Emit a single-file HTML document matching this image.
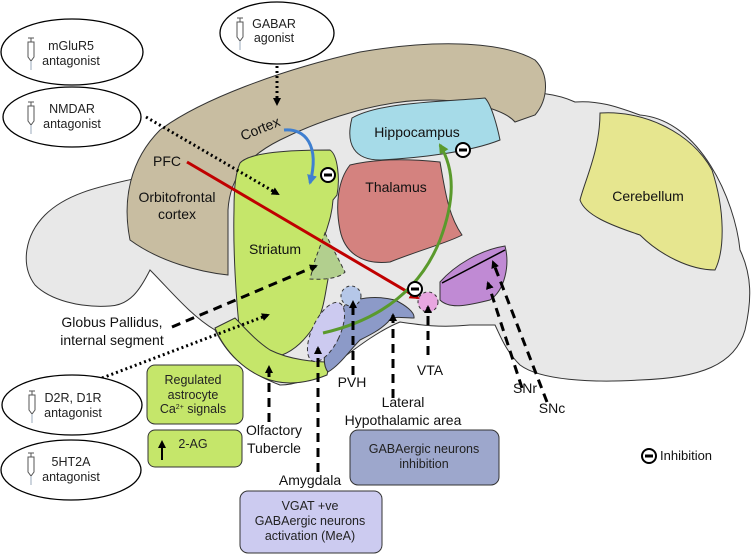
<!DOCTYPE html>
<html><head><meta charset="utf-8"><style>
html,body{margin:0;padding:0;background:#fff;}
svg{display:block;font-family:"Liberation Sans",Arial,sans-serif;}
</style></head><body>
<svg width="756" height="557" viewBox="0 0 756 557" xmlns="http://www.w3.org/2000/svg">
<defs>
<marker id="ak" markerWidth="8" markerHeight="8" refX="6" refY="4" orient="auto" markerUnits="userSpaceOnUse"><path d="M0,0 L8,4 L0,8 z" fill="#000"/></marker>
<marker id="ar" markerWidth="10" markerHeight="10" refX="8" refY="5" orient="auto" markerUnits="userSpaceOnUse"><path d="M0,0 L10,5 L0,10 z" fill="#c00000"/></marker>
<marker id="ag" markerWidth="10" markerHeight="10" refX="8" refY="5" orient="auto" markerUnits="userSpaceOnUse"><path d="M0,0 L10,5 L0,10 z" fill="#5a9a2c"/></marker>
<marker id="ab" markerWidth="10" markerHeight="10" refX="8" refY="5" orient="auto" markerUnits="userSpaceOnUse"><path d="M0,0 L10,5 L0,10 z" fill="#3f7fd0"/></marker>
</defs>
<!-- gray brain -->
<path d="M150,175 C200,120 300,95 400,95 L480,92 C540,90 560,95 575,102 C600,100 620,108 640,115 C700,120 735,200 740,250 C752,275 752,300 745,330 C735,365 700,378 640,380 C590,383 540,380 520,365 C505,350 500,335 495,325 L470,325 C440,328 420,325 400,322 C380,330 360,345 340,360 C320,375 300,385 280,385 C240,370 225,350 215,330 C190,315 170,290 150,270 C140,290 130,305 110,306 C80,308 50,300 35,285 C20,265 25,235 45,215 C70,190 110,185 150,175 Z" fill="#e8e8e8" stroke="#333" stroke-width="1"/>
<!-- cortex -->
<path d="M130,240 C122,200 130,160 160,130 C200,100 280,70 360,52 C430,40 500,40 535,60 C550,75 548,100 535,115 L515,122 C505,110 470,100 430,100 C380,100 320,120 280,140 C250,155 230,175 228,210 L228,275 C200,272 160,262 130,240 Z" fill="#c8bda1" stroke="#333" stroke-width="1"/>
<!-- striatum -->
<path d="M240,163 C250,152 290,150 330,150 C338,155 340,180 337,195 L333,200 C332,215 328,225 325,235 L330,270 C325,290 325,310 315,325 C305,340 295,350 282,355 C265,352 250,345 240,335 C236,300 233,250 234,210 C234,185 236,172 240,163 Z" fill="#c5e66a" stroke="#333" stroke-width="1"/>
<!-- olfactory tubercle band -->
<path d="M215,328 L235,318 C245,328 255,340 270,350 C290,360 315,362 330,362 L327,375 C310,382 290,386 270,380 C245,372 225,352 215,328 Z" fill="#c5e66a" stroke="#333" stroke-width="1"/>
<!-- globus pallidus -->
<path d="M325,233 L345,272 C340,278 325,280 310,279 L315,260 Z" fill="#b2cf8e" stroke="#333" stroke-width="1" stroke-dasharray="4,3"/>
<!-- hippocampus -->
<path d="M352,118 C380,102 440,102 485,98 C492,105 498,130 500,140 C470,152 420,158 380,160 C355,160 345,145 352,118 Z" fill="#a6dbe8" stroke="#333" stroke-width="1"/>
<!-- thalamus -->
<path d="M350,165 C370,160 400,158 440,162 C445,190 448,215 462,235 C450,242 420,250 390,262 C365,265 345,255 340,230 C335,205 338,180 350,165 Z" fill="#d4827f" stroke="#333" stroke-width="1"/>
<!-- cerebellum -->
<path d="M600,113 C640,110 690,130 712,170 C725,210 725,250 715,270 C690,270 660,255 640,235 C610,225 585,215 580,200 C585,180 600,150 600,113 Z" fill="#e6e68f" stroke="#333" stroke-width="1"/>
<!-- SN -->
<path d="M440,282 C455,265 480,250 505,246 C510,265 505,290 490,300 C470,305 450,310 440,300 Z" fill="#c08ad4" stroke="#333" stroke-width="1"/>
<!-- lateral hypothalamic -->
<path d="M345,305 C355,298 375,295 395,300 C405,305 415,312 414,318 C400,318 392,315 388,322 C380,330 370,335 360,340 C350,350 340,365 328,372 C318,360 330,325 345,305 Z" fill="#8c9ac8" stroke="#333" stroke-width="1"/>
<!-- amygdala -->
<ellipse cx="326" cy="332" rx="14" ry="32" transform="rotate(25 326 332)" fill="#cccaf0" stroke="#333" stroke-dasharray="4,3"/>
<!-- PVH -->
<circle cx="351" cy="296" r="10" fill="#b5c7e8" stroke="#333" stroke-dasharray="3,3"/>
<!-- VTA -->
<circle cx="428" cy="302" r="10" fill="#e8a6e0" stroke="#333" stroke-dasharray="3,3"/>
<!-- red line -->
<line x1="187" y1="162" x2="418" y2="298" stroke="#c00000" stroke-width="3" marker-end="url(#ar)"/>
<!-- green curve -->
<path d="M323,333 C380,320 420,290 440,240 C455,200 455,170 440,145" fill="none" stroke="#5a9a2c" stroke-width="3" marker-end="url(#ag)"/>
<!-- blue curve -->
<path d="M284,130 C305,128 320,145 310,183" fill="none" stroke="#3f7fd0" stroke-width="3" marker-end="url(#ab)"/>
<!-- SN line -->
<line x1="442" y1="283" x2="505" y2="250" stroke="#000" stroke-width="1.5"/>
<!-- dotted arrows -->
<g stroke="#000" stroke-width="3" stroke-dasharray="2,3" fill="none" marker-end="url(#ak)">
<line x1="277" y1="66" x2="277" y2="104"/>
<line x1="146" y1="117" x2="278" y2="194"/>
<line x1="102" y1="378" x2="268" y2="315"/>
</g>
<!-- dashed arrows -->
<g stroke="#000" stroke-width="3" stroke-dasharray="9,6" fill="none" marker-end="url(#ak)">
<line x1="172" y1="327" x2="316" y2="266"/>
<line x1="269" y1="422" x2="269" y2="367"/>
<line x1="318" y1="472" x2="318" y2="348"/>
<line x1="353" y1="375" x2="353" y2="302"/>
<line x1="393" y1="398" x2="393" y2="315"/>
<line x1="428" y1="355" x2="428" y2="307"/>
<line x1="522" y1="388" x2="488" y2="283"/>
<line x1="547" y1="402" x2="493" y2="262"/>
</g>
<!-- inhibition icons -->
<g fill="#fff" stroke="#000" stroke-width="2">
<circle cx="328" cy="175" r="7"/><circle cx="463" cy="150" r="7"/><circle cx="415" cy="289" r="7"/><circle cx="649" cy="456" r="7"/>
</g>
<g stroke="#000" stroke-width="3">
<line x1="324" y1="175" x2="332" y2="175"/><line x1="459" y1="150" x2="467" y2="150"/><line x1="411" y1="289" x2="419" y2="289"/><line x1="645" y1="456" x2="653" y2="456"/>
</g>
<!-- ellipses -->
<g fill="#fff" stroke="#000" stroke-width="1.3">
<ellipse cx="72" cy="52" rx="71" ry="33"/>
<ellipse cx="72" cy="117" rx="69" ry="30"/>
<ellipse cx="277" cy="33" rx="57" ry="31"/>
<ellipse cx="72" cy="405" rx="70" ry="30"/>
<ellipse cx="71" cy="470" rx="70" ry="30"/>
</g>
<g fill="none" stroke="#555" stroke-width="1">
<path d="M28,38 h6 M31,38 v4 M28,42 h6 v15 l-3,4 l-3,-4 z"/><line x1="31" y1="61" x2="31" y2="70" stroke="#9ab"/>
<path d="M28,102 h6 M31,102 v4 M28,106 h6 v15 l-3,4 l-3,-4 z"/><line x1="31" y1="125" x2="31" y2="134" stroke="#9ab"/>
<path d="M237,18 h6 M240,18 v4 M237,22 h6 v15 l-3,4 l-3,-4 z"/><line x1="240" y1="41" x2="240" y2="50" stroke="#9ab"/>
<path d="M29,391 h6 M32,391 v4 M29,395 h6 v15 l-3,4 l-3,-4 z"/><line x1="32" y1="414" x2="32" y2="423" stroke="#9ab"/>
<path d="M28,453 h6 M31,453 v4 M28,457 h6 v15 l-3,4 l-3,-4 z"/><line x1="31" y1="476" x2="31" y2="485" stroke="#9ab"/>
</g>
<!-- boxes -->
<rect x="147" y="365" width="96" height="59" rx="8" fill="#c5e66a" stroke="#333"/>
<rect x="148" y="430" width="94" height="37" rx="7" fill="#c5e66a" stroke="#333"/>
<rect x="350" y="430" width="149" height="55" rx="8" fill="#9da7cc" stroke="#333"/>
<rect x="240" y="491" width="142" height="62" rx="8" fill="#cccbf0" stroke="#333"/>
<line x1="162" y1="460" x2="162" y2="442" stroke="#000" stroke-width="2" marker-end="url(#ak)"/>
<!-- text -->
<g font-size="12.5" fill="#222" text-anchor="middle">
<text x="71" y="50">mGluR5</text><text x="71" y="65">antagonist</text>
<text x="72" y="113">NMDAR</text><text x="72" y="128">antagonist</text>
<text x="274" y="28">GABAR</text><text x="274" y="42">agonist</text>
<text x="73" y="134" display="none"></text>
<text x="73" y="134" display="none"></text>
<text x="73" y="134" display="none"></text>
<text x="73" y="135" display="none"></text>
<text x="73" y="402">D2R, D1R</text><text x="73" y="417">antagonist</text>
<text x="71" y="466">5HT2A</text><text x="71" y="481">antagonist</text>
<text x="193" y="384">Regulated</text><text x="193" y="399">astrocyte</text><text x="193" y="413">Ca<tspan font-size="7" dy="-4">2+</tspan><tspan dy="4"> signals</tspan></text>
<text x="193" y="448">2-AG</text>
<text x="424" y="453">GABAergic neurons</text><text x="424" y="468">inhibition</text>
<text x="310" y="510">VGAT +ve</text><text x="310" y="525">GABAergic neurons</text><text x="310" y="540">activation (MeA)</text>
</g>
<g font-size="14" fill="#111" text-anchor="middle">
<text x="167" y="166">PFC</text>
<text x="177" y="202">Orbitofrontal</text><text x="177" y="219">cortex</text>
<text x="275" y="254">Striatum</text>
<text x="396" y="192">Thalamus</text>
<text x="417" y="137">Hippocampus</text>
<text x="648" y="201">Cerebellum</text>
<text x="112" y="327">Globus Pallidus,</text><text x="112" y="345">internal segment</text>
<text x="274" y="435">Olfactory</text><text x="274" y="453">Tubercle</text>
<text x="310" y="485">Amygdala</text>
<text x="352" y="387">PVH</text>
<text x="430" y="375">VTA</text>
<text x="403" y="407">Lateral</text><text x="403" y="425">Hypothalamic area</text>
<text x="525" y="393">SNr</text>
<text x="552" y="413">SNc</text>
<text x="262" y="133" transform="rotate(-22 262 133)">Cortex</text>
</g>
<text x="660" y="460" font-size="13" fill="#111">Inhibition</text>
</svg>
</body></html>
